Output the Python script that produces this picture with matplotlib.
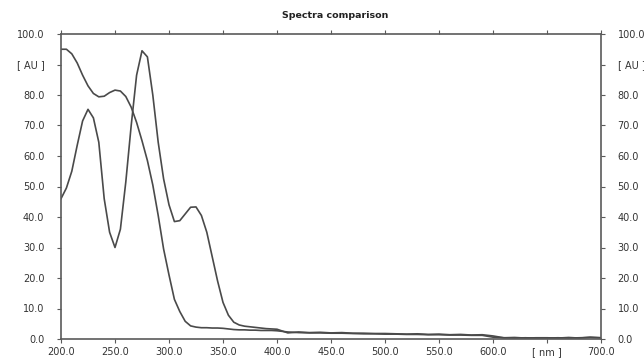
import matplotlib
matplotlib.use("Agg")
import matplotlib.pyplot as plt

wavelength = [200, 205, 210, 215, 220, 225, 230, 235, 240, 245, 250, 255, 260, 265, 270,
              275, 280, 285, 290, 295, 300, 305, 310, 315, 320, 325, 330, 335, 340, 345,
              350, 355, 360, 365, 370, 375, 380, 385, 390, 395, 400,
              410, 420, 430, 440, 450, 460, 470, 480, 490, 500, 510, 520, 530, 540, 550,
              560, 570, 580, 590, 600, 610, 620, 630, 640, 650, 660, 670, 680, 690, 700]

spectrum_a = [95.0, 95.0, 93.5, 90.5, 86.5, 83.0, 80.5, 79.4, 79.6, 80.8, 81.6, 81.3, 79.5, 76.0, 71.0,
              65.0, 58.5, 50.5, 40.5, 29.5, 21.0, 13.0, 9.0, 5.8, 4.3, 3.9, 3.7, 3.7, 3.6, 3.6,
              3.5, 3.3, 3.1, 3.0, 3.0, 2.9, 2.9, 2.8, 2.8, 2.8, 2.7,
              2.3, 2.1, 2.0, 2.0, 1.9, 1.9, 1.8, 1.7, 1.7, 1.6, 1.6, 1.5, 1.5, 1.4, 1.4,
              1.3, 1.3, 1.2, 1.2, 0.6, 0.4, 0.3, 0.4, 0.3, 0.3, 0.4, 0.3, 0.4, 0.5, 0.4]

spectrum_b = [46.0, 49.5, 55.0, 63.5, 71.5, 75.3, 72.5, 64.5, 46.0, 35.0, 30.0, 36.0, 51.5, 70.0, 86.5,
              94.5, 92.5, 80.0, 64.5, 52.5, 44.0, 38.5, 38.8, 41.0, 43.2, 43.3, 40.5, 35.0, 27.0, 19.0,
              12.0, 7.8, 5.5, 4.6, 4.2, 4.0, 3.8, 3.6, 3.4, 3.3, 3.2,
              2.0, 2.3, 2.1, 2.2, 2.0, 2.1, 1.9, 1.9, 1.8, 1.8, 1.7, 1.6, 1.7, 1.5, 1.6,
              1.4, 1.5, 1.3, 1.4, 1.0, 0.4, 0.5, 0.3, 0.4, 0.4, 0.3, 0.5, 0.3, 0.6, 0.4]

x_ticks = [200, 250, 300, 350, 400, 450, 500, 550, 600, 650, 700]
x_labels = ["200.0", "250.0", "300.0", "350.0", "400.0", "450.0", "500.0", "550.0",
            "600.0", "[ nm ]", "700.0"]
y_ticks = [0, 10, 20, 30, 40, 50, 60, 70, 80, 90, 100]
y_labels = ["0.0", "10.0", "20.0", "30.0", "40.0", "50.0", "60.0", "70.0", "80.0",
            "[ AU ]", "100.0"]

plt.rcParams['font.family'] = ['DejaVu Sans']

fig = plt.figure(figsize=(6.44, 3.60), dpi=100)
ax = fig.add_axes([61/644, 1-339/360, 540/644, 305/360])

line_color = "#4a4a4a"
ax.plot(wavelength, spectrum_a, color=line_color, lw=1.2, solid_joinstyle='round')
ax.plot(wavelength, spectrum_b, color=line_color, lw=1.2, solid_joinstyle='round')

ax.set_xlim(200, 700)
ax.set_ylim(0, 100)

ax.set_xticks(x_ticks)
ax.set_xticklabels(x_labels)
ax.set_yticks(y_ticks)
ax.set_yticklabels(y_labels)

for s in ax.spines.values():
    s.set_color("#5a5a5a")
    s.set_linewidth(1.2)

ax.tick_params(axis='x', which='both', direction='out', length=3, width=0.8,
               color="#5a5a5a", labelsize=7, labelcolor="#333333", pad=3,
               top=True, labeltop=False)
ax.tick_params(axis='y', which='both', direction='out', length=3, width=0.8,
               color="#5a5a5a", labelsize=7, labelcolor="#333333", pad=9,
               right=True, labelright=True)

fig.text(335/644, 1-15/360, "Spectra comparison", ha='center', va='center',
         fontsize=6.8, fontweight='bold', color="#222222")

fig.savefig("out.png", dpi=100, facecolor="white")
